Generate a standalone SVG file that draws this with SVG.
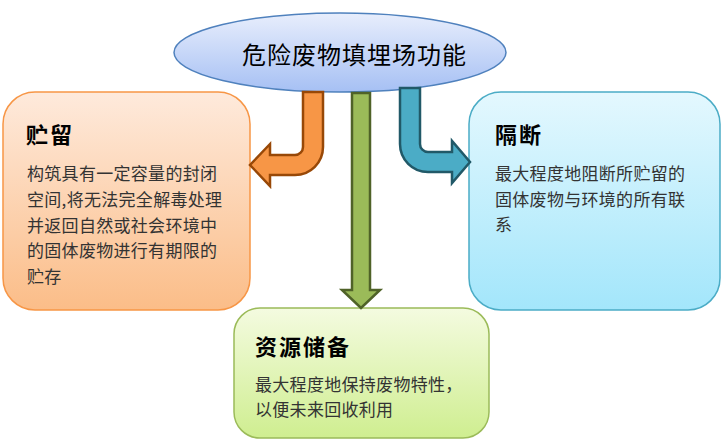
<svg xmlns="http://www.w3.org/2000/svg" width="721" height="447" viewBox="0 0 721 447">
<style>
.t{font-family:"Noto Sans CJK SC","Liberation Serif",sans-serif;fill:#000}
.h{font-size:22px;font-weight:bold;letter-spacing:2px}
.b{font-size:17px;letter-spacing:0.3px;fill:#333}
.main{font-size:24px;letter-spacing:1px}
.arr{stroke-width:2.5;stroke-linejoin:miter}
</style>
<defs>
<linearGradient id="gE" x1="0" y1="0" x2="0" y2="1"><stop offset="0" stop-color="#e8eefc"/><stop offset="1" stop-color="#a6c0f4"/></linearGradient>
<linearGradient id="gL" x1="0" y1="0" x2="0" y2="1"><stop offset="0" stop-color="#feeadc"/><stop offset="1" stop-color="#fbbd88"/></linearGradient>
<linearGradient id="gR" x1="0" y1="0" x2="0" y2="1"><stop offset="0" stop-color="#e4f8fe"/><stop offset="1" stop-color="#a3e6fb"/></linearGradient>
<linearGradient id="gB" x1="0" y1="0" x2="0" y2="1"><stop offset="0" stop-color="#f4fbe0"/><stop offset="1" stop-color="#cfee90"/></linearGradient>
</defs>
<g id="main">
<ellipse cx="340" cy="52.5" rx="166" ry="39.5" fill="url(#gE)" stroke="#4f81bd" stroke-width="1.5"/>
<text class="t main" x="242" y="64">危险废物填埋场功能</text>
</g>
<g id="storage">
<rect x="3" y="92" width="247" height="218" rx="32" fill="url(#gL)" stroke="#f79646" stroke-width="1.5"/>
<text class="t h" x="26" y="143">贮留</text>
<text class="t b" x="27" y="180">构筑具有一定容量的封闭</text>
<text class="t b" x="27" y="205.75">空间,将无法完全解毒处理</text>
<text class="t b" x="27" y="231.5">并返回自然或社会环境中</text>
<text class="t b" x="27" y="257.25">的固体废物进行有期限的</text>
<text class="t b" x="27" y="283">贮存</text>
</g>
<g id="isolation">
<rect x="469" y="92" width="251" height="218" rx="32" fill="url(#gR)" stroke="#4bacc6" stroke-width="1.5"/>
<text class="t h" x="495" y="143">隔断</text>
<text class="t b" x="495" y="180">最大程度地阻断所贮留的</text>
<text class="t b" x="495" y="205.5">固体废物与环境的所有联</text>
<text class="t b" x="495" y="231">系</text>
</g>
<g id="reserve">
<rect x="234" y="308" width="255" height="130" rx="26" fill="url(#gB)" stroke="#9bbb59" stroke-width="1.5"/>
<text class="t h" x="255" y="354.5">资源储备</text>
<text class="t b" x="255" y="391">最大程度地保持废物特性，</text>
<text class="t b" x="255" y="416">以便未来回收利用</text>
</g>
<g id="connectors">
<path class="arr" d="M303 92 L323 92 L323 147 A28 28 0 0 1 295 175 L270 175 L270 186 L250 165 L270 144 L270 155 L295 155 A8 8 0 0 0 303 147 Z" fill="#f79646" stroke="#984807"/>
<path class="arr" d="M400 88 L420 88 L420 144 A8 8 0 0 0 428 152 L452 152 L452 141 L470 162 L452 183 L452 172 L428 172 A28 28 0 0 1 400 144 Z" fill="#4bacc6" stroke="#215968"/>
<path class="arr" d="M352 93 L370 93 L370 290 L380 290 L361 308 L342 290 L352 290 Z" fill="#9bbb59" stroke="#4f6228"/>
</g>
</svg>
